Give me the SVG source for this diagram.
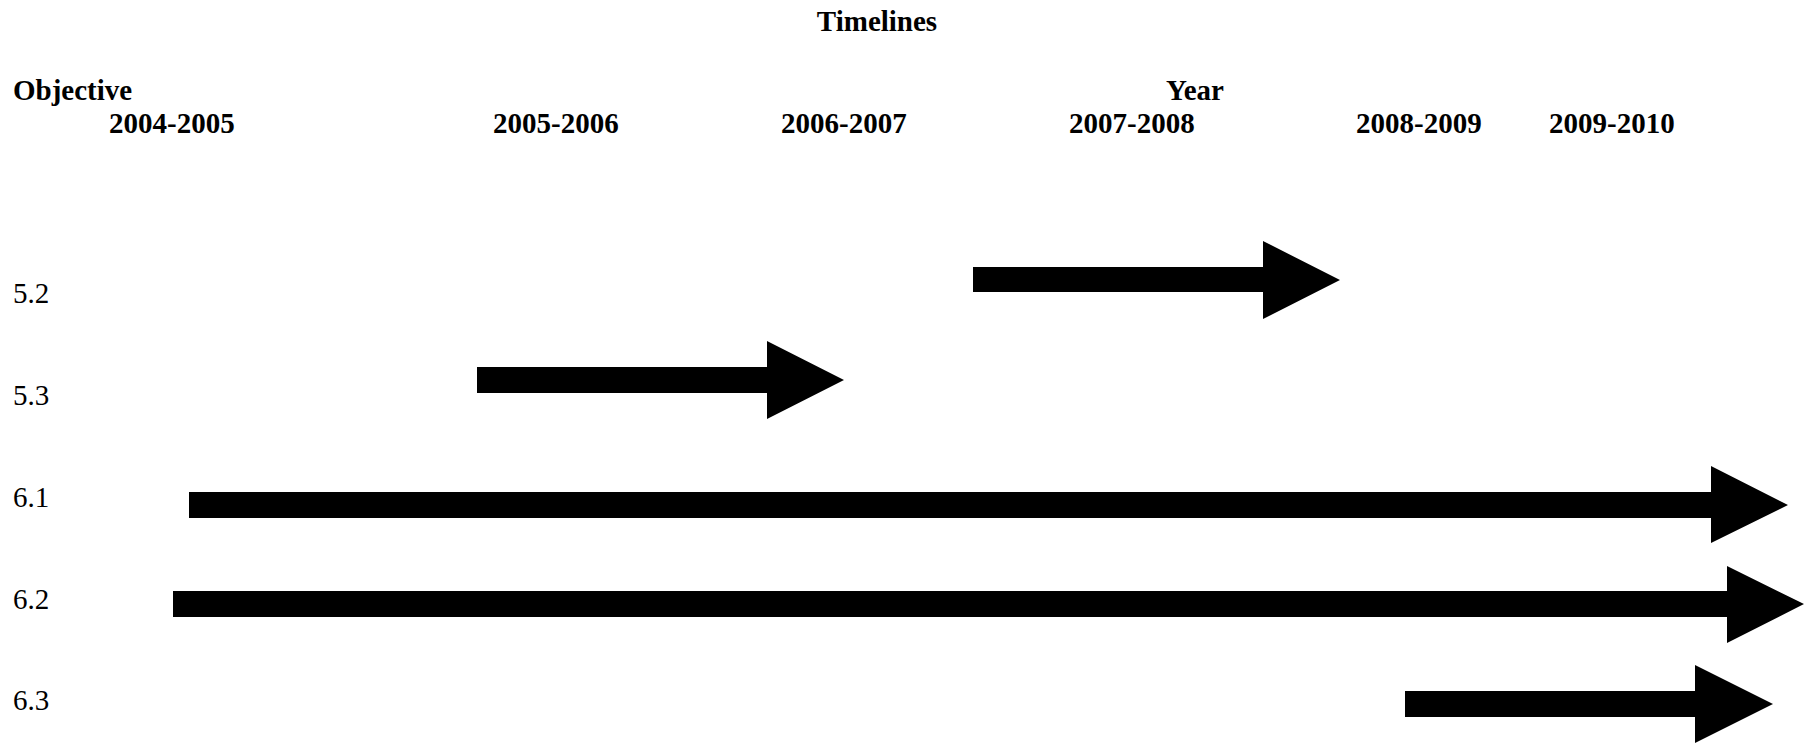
<svg xmlns="http://www.w3.org/2000/svg" width="1807" height="744" viewBox="0 0 1807 744">
<style>
.t{font-family:"Liberation Serif","Times New Roman",serif;font-size:29px;fill:#000}
.b{font-weight:bold}
.a{fill:#000}
</style>
<rect width="1807" height="744" fill="#fff"/>
<g id="title"><text class="t b" x="877" y="31" text-anchor="middle">Timelines</text></g>
<g id="headers">
<text class="t b" x="13" y="100">Objective</text>
<text class="t b" x="1195" y="100" text-anchor="middle">Year</text>
<text class="t b" x="109" y="133">2004-2005</text>
<text class="t b" x="493" y="133">2005-2006</text>
<text class="t b" x="781" y="133">2006-2007</text>
<text class="t b" x="1069" y="133">2007-2008</text>
<text class="t b" x="1356" y="133">2008-2009</text>
<text class="t b" x="1549" y="133">2009-2010</text>
</g>
<g id="obj-5-2"><text class="t" x="13" y="303">5.2</text></g>
<g id="obj-5-3"><text class="t" x="13" y="405">5.3</text></g>
<g id="obj-6-1"><text class="t" x="13" y="507">6.1</text></g>
<g id="obj-6-2"><text class="t" x="13" y="609">6.2</text></g>
<g id="obj-6-3"><text class="t" x="13" y="710">6.3</text></g>
<g id="connectors">
<polygon id="arrow-5-2" class="a" points="973,267 1263,267 1263,241 1340,280 1263,319 1263,292 973,292"/>
<polygon id="arrow-5-3" class="a" points="477,367 767,367 767,341 844,380 767,419 767,393 477,393"/>
<polygon id="arrow-6-1" class="a" points="189,492 1711,492 1711,466 1788,505 1711,543 1711,518 189,518"/>
<polygon id="arrow-6-2" class="a" points="173,591 1727,591 1727,566 1804,604 1727,643 1727,617 173,617"/>
<polygon id="arrow-6-3" class="a" points="1405,691 1695,691 1695,665 1773,704 1695,743 1695,717 1405,717"/>
</g>
</svg>
